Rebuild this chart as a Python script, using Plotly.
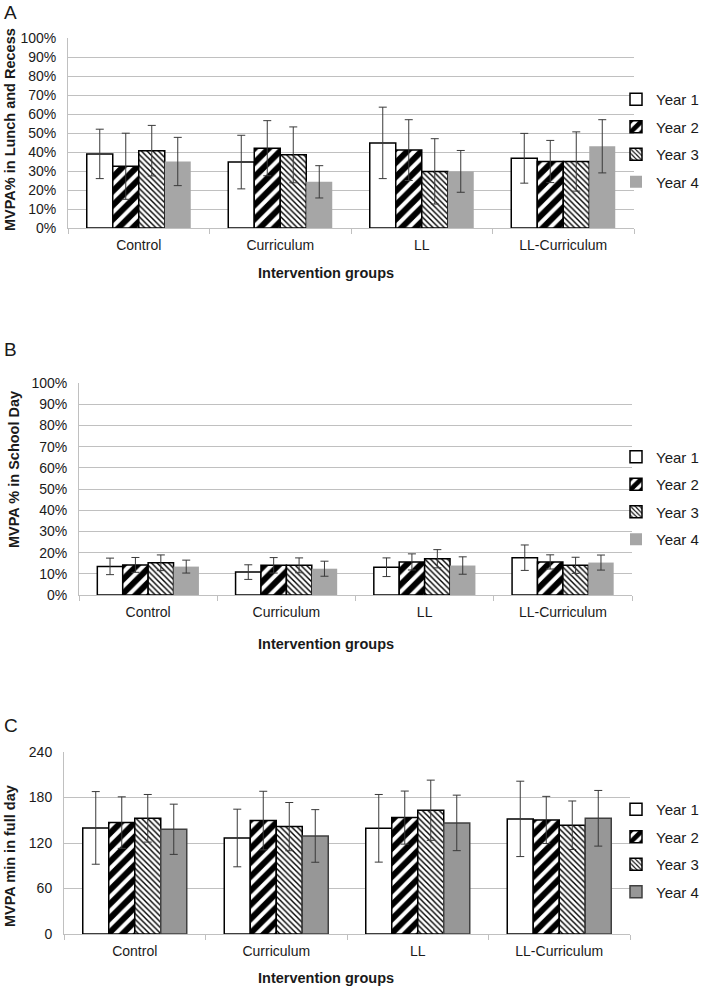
import plotly.graph_objects as go

W, H = 702, 987

categories = ["Control", "Curriculum", "LL", "LL-Curriculum"]
years = ["Year 1", "Year 2", "Year 3", "Year 4"]

# Panel A: MVPA% in Lunch and Recess
lunch_y1 = [39.0, 34.7, 44.8, 36.7]
lunch_y2 = [32.5, 42.0, 41.0, 35.0]
lunch_y3 = [40.7, 38.5, 29.8, 35.0]
lunch_y4 = [35.0, 24.3, 29.8, 43.0]
lunch_err_y1 = [13.0, 14.1, 18.8, 13.1]
lunch_err_y2 = [17.4, 14.5, 16.0, 11.1]
lunch_err_y3 = [13.3, 14.7, 17.2, 15.6]
lunch_err_y4 = [12.7, 8.5, 11.0, 14.0]

# Panel B: MVPA % in School Day
school_y1 = [13.5, 10.8, 13.1, 17.6]
school_y2 = [14.2, 14.0, 15.6, 15.6]
school_y3 = [15.2, 14.0, 17.1, 14.0]
school_y4 = [13.4, 12.4, 13.9, 15.3]
school_err_y1 = [3.9, 3.45, 4.4, 6.0]
school_err_y2 = [3.5, 3.65, 3.8, 3.35]
school_err_y3 = [3.7, 3.5, 4.3, 3.8]
school_err_y4 = [3.05, 3.55, 4.1, 3.55]

# Panel C: MVPA min in full day
fullday_y1 = [139.9, 126.6, 139.4, 151.8]
fullday_y2 = [146.9, 149.6, 153.5, 150.4]
fullday_y3 = [152.6, 141.6, 163.2, 143.4]
fullday_y4 = [138.1, 129.3, 146.5, 152.6]
fullday_err_y1 = [47.9, 38.0, 44.6, 49.7]
fullday_err_y2 = [34.0, 38.6, 35.0, 31.1]
fullday_err_y3 = [31.4, 31.8, 39.7, 32.0]
fullday_err_y4 = [33.1, 34.7, 36.6, 36.7]

FONT = "Liberation Sans, Arial, sans-serif"
GRID = "#c0c0c0"
TXT = "#1a1a1a"


def px(x):
    return x / W


def py(y):
    return 1 - y / H


def year_style(i, panel):
    if i == 0:
        return dict(color="white", line=dict(color="black", width=1.5))
    if i == 1:
        return dict(color="white", line=dict(color="black", width=1.5),
                    pattern=dict(shape="/", fgcolor="black", bgcolor="white",
                                 fgopacity=1, size=10, solidity=0.6))
    if i == 2:
        return dict(color="white", line=dict(color="black", width=1.5),
                    pattern=dict(shape="\\", fgcolor="black", bgcolor="white",
                                 fgopacity=1, size=4, solidity=0.35))
    if panel == "C":
        return dict(color="#979797", line=dict(color="#404040", width=1.5))
    return dict(color="#a6a6a6", line=dict(color="#a6a6a6", width=0))


panels = [
    ("A", "x", "y", "legend", [lunch_y1, lunch_y2, lunch_y3, lunch_y4],
     [lunch_err_y1, lunch_err_y2, lunch_err_y3, lunch_err_y4]),
    ("B", "x2", "y2", "legend2", [school_y1, school_y2, school_y3, school_y4],
     [school_err_y1, school_err_y2, school_err_y3, school_err_y4]),
    ("C", "x3", "y3", "legend3", [fullday_y1, fullday_y2, fullday_y3, fullday_y4],
     [fullday_err_y1, fullday_err_y2, fullday_err_y3, fullday_err_y4]),
]

fig = go.Figure()
for panel, xa, ya, leg, vals, errs in panels:
    for i, name in enumerate(years):
        fig.add_trace(go.Bar(
            x=categories, y=vals[i], name=name,
            xaxis=xa, yaxis=ya, legend=leg, legendgroup=panel + name,
            marker=year_style(i, panel),
            error_y=dict(type="data", array=errs[i], visible=True,
                         color="#3a3a3a", thickness=1, width=4),
            offsetgroup=str(i),
        ))

axis_common_x = dict(
    type="category", showgrid=False, showline=True, linecolor=GRID, linewidth=1,
    ticks="outside", tickson="boundaries", ticklen=5, tickcolor=GRID,
    tickfont=dict(family=FONT, size=14, color=TXT), fixedrange=True,
    automargin=False, ticklabelstandoff=4,
)
axis_common_y = dict(
    showgrid=True, gridcolor=GRID, gridwidth=1, showline=True, linecolor=GRID,
    linewidth=1, ticks="", zeroline=False, ticklabelstandoff=8,
    tickfont=dict(family=FONT, size=14, color=TXT), fixedrange=True,
    automargin=False,
)

layout = dict(
    width=W, height=H, margin=dict(l=0, r=0, t=0, b=0, autoexpand=False),
    paper_bgcolor="white", plot_bgcolor="white",
    barmode="group", bargap=0.265, bargroupgap=0,
    font=dict(family=FONT, size=14, color=TXT),
    xaxis=dict(axis_common_x, domain=[px(68), px(634)], anchor="y"),
    yaxis=dict(axis_common_y, domain=[py(228), py(38)], anchor="x",
               range=[0, 100], dtick=10, ticksuffix="%"),
    xaxis2=dict(axis_common_x, domain=[px(79), px(632)], anchor="y2"),
    yaxis2=dict(axis_common_y, domain=[py(595), py(383)], anchor="x2",
                range=[0, 100], dtick=10, ticksuffix="%"),
    xaxis3=dict(axis_common_x, domain=[px(64), px(630)], anchor="y3"),
    yaxis3=dict(axis_common_y, domain=[py(934), py(752)], anchor="x3",
                range=[0, 240], dtick=60),
    showlegend=True,
)

leg_common = dict(font=dict(family=FONT, size=15, color=TXT), bgcolor="rgba(0,0,0,0)",
                  xanchor="left", yanchor="top", tracegroupgap=5,
                  xref="container", yref="container",
                  itemclick=False, itemdoubleclick=False)
layout["legend"] = dict(leg_common, x=px(616), y=py(83))
layout["legend2"] = dict(leg_common, x=px(616), y=py(440.5))
layout["legend3"] = dict(leg_common, x=px(616), y=py(793))

fig.update_layout(**layout)

annotations = []
# panel letters
for letter, yy in [("A", 12), ("B", 349), ("C", 725)]:
    annotations.append(dict(text=letter, x=px(2), y=py(yy), xref="paper", yref="paper",
                            xanchor="left", yanchor="middle", showarrow=False,
                            font=dict(family=FONT, size=19, color=TXT)))
# y titles
for txt, xx, yy in [("MVPA% in Lunch and Recess", 10, 130),
                    ("MVPA % in School Day", 14, 470),
                    ("MVPA min in full day", 10, 856)]:
    annotations.append(dict(text="<b>" + txt + "</b>", x=px(xx), y=py(yy), xref="paper",
                            yref="paper", xanchor="center", yanchor="middle",
                            textangle=-90, showarrow=False,
                            font=dict(family=FONT, size=14.5, color=TXT)))
# x titles
for yy in [273, 644, 978]:
    annotations.append(dict(text="<b>Intervention groups</b>", x=px(326), y=py(yy),
                            xref="paper", yref="paper", xanchor="center",
                            yanchor="middle", showarrow=False,
                            font=dict(family=FONT, size=14.5, color=TXT)))
fig.update_layout(annotations=annotations)

fig.write_html(
    "out.html",
    config={"displayModeBar": False, "staticPlot": False},
    post_script="document.body.style.margin='0';document.body.style.padding='0';"
                "document.documentElement.style.overflow='hidden';",
)
